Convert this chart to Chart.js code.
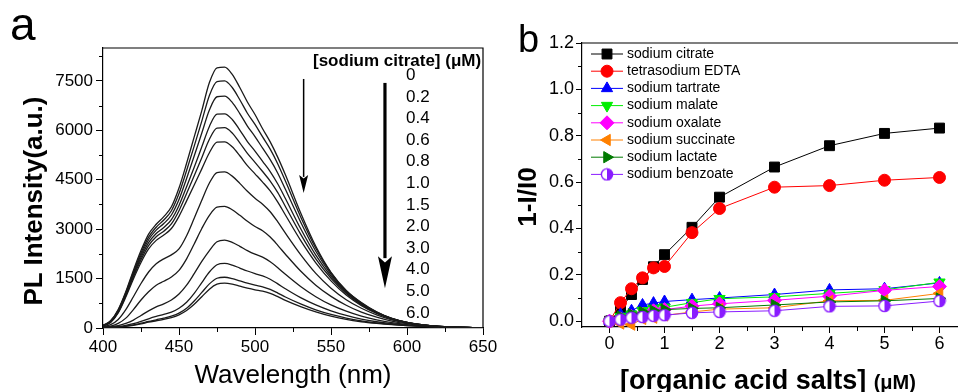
<!DOCTYPE html>
<html>
<head>
<meta charset="utf-8">
<script src="https://cdn.jsdelivr.net/npm/chart.js@4.4.1/dist/chart.umd.min.js"></script>
<style>
html, body { margin: 0; padding: 0; background: #fff; }
body { width: 958px; height: 392px; overflow: hidden; position: relative;
       font-family: "Liberation Sans", Arial, sans-serif; color: #000; }
canvas { position: absolute; top: 0; }
#chA { left: 0; }
#chB { left: 480px; }
.lbl { position: absolute; white-space: nowrap; line-height: 1; }
.rot { transform: translate(-50%, -50%) rotate(-90deg); }
</style>
</head>
<body>
<canvas id="chA" width="520" height="392"></canvas>
<canvas id="chB" width="510" height="392"></canvas>

<div class="lbl" style="left:10px;top:1px;font-size:46px">a</div>
<div class="lbl" style="left:518px;top:20px;font-size:38px">b</div>
<div class="lbl rot" style="left:33px;top:201px;font-size:26px;font-weight:bold">PL Intensity(a.u.)</div>
<div class="lbl rot" style="left:527px;top:197px;font-size:26px;font-weight:bold">1-I/I0</div>
<div class="lbl" style="left:768px;top:380px;transform:translate(-50%,-50%);font-size:27px;font-weight:bold">[organic acid salts] <span style="font-size:20px">(μM)</span></div>
<div class="lbl" style="left:313px;top:52px;font-size:17px;font-weight:bold">[sodium citrate] (μM)</div>
<div id="concList" class="lbl" style="left:406px;top:64px;font-size:17px;line-height:21.6px"></div>

<script>
/* panel a: PL spectra vs sodium citrate, panel b: quenching by organic acid salts */

// ---- panel a data ----
var wavelength = [400,405,410,415,420,425,430,435,440,445,450,455,460,465,470,475,480,485,490,495,500,505,510,515,520,530,540,550,560,570,580,590,600,615,630,650];
var citrateConc = ['0','0.2','0.4','0.6','0.8','1.0','1.5','2.0','3.0','4.0','5.0','6.0'];

var pl00 = [80,220,560,1100,1750,2350,2850,3150,3380,3680,4250,5000,5800,6600,7450,7900,7920,7700,7300,6860,6480,6050,5650,5180,4650,3500,2480,1690,1140,770,490,290,170,72,30,8];
var pl02 = [75,210,540,1070,1700,2280,2760,3060,3280,3560,4080,4780,5520,6280,7060,7480,7500,7300,6930,6520,6180,5800,5430,4980,4460,3380,2420,1670,1130,760,485,290,170,72,30,8];
var pl04 = [70,200,520,1040,1650,2210,2680,2970,3170,3430,3900,4540,5220,5920,6620,7020,7040,6850,6510,6130,5810,5460,5110,4700,4210,3220,2330,1630,1110,745,475,288,170,72,30,8];
var pl06 = [65,190,500,1010,1600,2140,2590,2870,3050,3290,3720,4290,4880,5500,6120,6490,6500,6330,6010,5660,5370,5060,4750,4370,3930,3020,2210,1570,1080,730,465,285,168,70,30,8];
var pl08 = [60,180,480,980,1550,2070,2500,2770,2940,3160,3560,4080,4620,5170,5730,6070,6080,5920,5620,5300,5030,4750,4460,4110,3690,2850,2100,1510,1050,710,455,280,165,70,30,8];
var pl10 = [55,170,460,940,1490,1990,2400,2660,2820,3020,3390,3860,4340,4830,5320,5640,5650,5500,5230,4930,4680,4430,4160,3820,3430,2660,1980,1430,1000,680,440,275,165,70,30,8];
var pl15 = [40,100,260,560,950,1350,1700,1950,2100,2220,2400,2800,3330,3880,4400,4720,4740,4610,4390,4150,3940,3760,3530,3220,2880,2230,1660,1210,860,600,400,250,150,65,28,8];
var pl20 = [30,60,140,300,560,850,1100,1300,1420,1550,1750,2100,2550,3020,3420,3670,3690,3590,3420,3240,3080,2950,2760,2510,2240,1730,1300,960,690,480,330,210,130,60,25,8];
var pl30 = [20,35,70,140,240,380,520,640,730,850,1030,1300,1650,2020,2350,2620,2670,2600,2480,2350,2240,2150,2010,1830,1630,1260,950,700,510,360,250,165,105,50,22,8];
var pl40 = [15,25,45,80,130,200,280,350,410,480,600,780,1050,1380,1700,1920,1960,1910,1820,1730,1650,1580,1480,1340,1190,920,700,520,380,270,190,130,85,45,20,8];
var pl50 = [10,20,35,60,95,145,200,250,300,360,450,600,820,1080,1340,1510,1540,1500,1430,1360,1300,1250,1170,1060,940,730,550,410,300,215,155,110,75,40,20,8];
var pl60 = [10,18,30,50,80,125,175,220,265,315,400,530,720,950,1180,1330,1360,1330,1270,1210,1160,1120,1050,950,840,650,490,360,260,190,140,100,70,40,20,8];

var yTicksA = [0,1500,3000,4500,6000,7500];
var yMinorA = [750,2250,3750,5250,6750,8250];
var xMinorA = [425,475,525,575,625];

// ---- panel b data ----
var saltConc = [0,0.2,0.4,0.6,0.8,1,1.5,2,3,4,5,6];
var citrate   = [0,0.05,0.115,0.18,0.235,0.287,0.405,0.535,0.665,0.757,0.81,0.833];
var edta      = [0,0.08,0.14,0.187,0.23,0.236,0.382,0.486,0.578,0.585,0.608,0.62];
var tartrate  = [0,0.03,0.045,0.07,0.078,0.085,0.093,0.1,0.115,0.135,0.14,0.165];
var malate    = [0,0.02,0.03,0.045,0.055,0.06,0.08,0.097,0.105,0.12,0.135,0.168];
var oxalate   = [0,0.01,0.02,0.03,0.045,0.05,0.065,0.075,0.09,0.108,0.133,0.15];
var succinate = [0,-0.01,-0.015,0.01,0.015,0.025,0.04,0.052,0.058,0.088,0.09,0.12];
var lactate   = [0,0.02,0.03,0.04,0.045,0.05,0.055,0.058,0.07,0.083,0.088,0.098];
var benzoate  = [0,0.007,0.015,0.018,0.023,0.026,0.036,0.04,0.045,0.064,0.066,0.087];

var xTicksB = [0,1,2,3,4,5,6];
var yTicksB = [0,0.2,0.4,0.6,0.8,1.0,1.2];
var xMinorB = [0.5,1.5,2.5,3.5,4.5,5.5];
var yMinorB = [0.1,0.3,0.5,0.7,0.9,1.1];

var FONT = '"Liberation Sans", Arial, sans-serif';
Chart.defaults.font.family = FONT;
Chart.defaults.color = '#000';

document.getElementById('concList').innerHTML = citrateConc.map(function (c) { return '<div>' + c + '</div>'; }).join('');

// minor ticks + top/right frame
var framePlugin = {
  id: 'frame',
  afterDraw: function (chart, args, opts) {
    var ctx = chart.ctx, a = chart.chartArea;
    var sx = chart.scales.x, sy = chart.scales.y;
    ctx.save();
    ctx.strokeStyle = '#000';
    ctx.lineWidth = 1.2;
    ctx.beginPath();
    ctx.moveTo(a.left, a.top); ctx.lineTo(a.right, a.top); ctx.lineTo(a.right, a.bottom);
    ctx.stroke();
    ctx.lineWidth = 1;
    ctx.beginPath();
    (opts.xMinor || []).forEach(function (v) {
      var px = Math.round(sx.getPixelForValue(v)) + 0.5;
      ctx.moveTo(px, a.bottom); ctx.lineTo(px, a.bottom + opts.len);
    });
    (opts.yMinor || []).forEach(function (v) {
      var py = Math.round(sy.getPixelForValue(v)) + 0.5;
      ctx.moveTo(a.left, py); ctx.lineTo(a.left - opts.len, py);
    });
    ctx.stroke();
    ctx.restore();
  }
};

// arrows in panel a, placed in data units
var arrowPlugin = {
  id: 'arrows',
  afterDatasetsDraw: function (chart, args, opts) {
    if (!opts.list) return;
    var ctx = chart.ctx, sx = chart.scales.x, sy = chart.scales.y;
    ctx.save();
    ctx.strokeStyle = '#000'; ctx.fillStyle = '#000';
    opts.list.forEach(function (ar) {
      var x = sx.getPixelForValue(ar.x);
      var y1 = sy.getPixelForValue(ar.from), y2 = sy.getPixelForValue(ar.to);
      ctx.lineWidth = ar.lw;
      ctx.beginPath(); ctx.moveTo(x, y1); ctx.lineTo(x, y2 - ar.hl + 2); ctx.stroke();
      ctx.beginPath();
      ctx.moveTo(x, y2);
      ctx.lineTo(x - ar.hw / 2, y2 - ar.hl);
      ctx.lineTo(x, y2 - ar.hl * 0.8);
      ctx.lineTo(x + ar.hw / 2, y2 - ar.hl);
      ctx.closePath(); ctx.fill();
    });
    ctx.restore();
  }
};

// legend drawn inside plot area, line through marker
var innerLegend = {
  id: 'innerLegend',
  afterDraw: function (chart, args, opts) {
    if (!opts.show) return;
    var ctx = chart.ctx, a = chart.chartArea;
    var x0 = a.left + 9;
    ctx.save();
    ctx.font = '14px ' + FONT;
    ctx.textBaseline = 'middle';
    chart.data.datasets.forEach(function (ds, i) {
      var y = a.top + 11 + i * 17.2;
      ctx.strokeStyle = ds.borderColor; ctx.lineWidth = 1;
      ctx.beginPath(); ctx.moveTo(x0, y); ctx.lineTo(x0 + 32, y); ctx.stroke();
      ctx.fillStyle = ds.pointBackgroundColor; ctx.strokeStyle = ds.pointBorderColor;
      ctx.lineWidth = ds.pointBorderWidth;
      Chart.helpers.drawPoint(ctx, {
        pointStyle: ds.pointStyle, rotation: ds.pointRotation || 0,
        radius: ds.pointRadius, borderWidth: ds.pointBorderWidth
      }, x0 + 16, y);
      ctx.fillStyle = '#000';
      ctx.fillText(ds.label, x0 + 36, y);
    });
    ctx.restore();
  }
};

function fixTicks(list) {
  return function (s) { s.ticks = list.map(function (v) { return { value: v }; }); };
}

// ---------- panel a ----------
var specs = [pl00, pl02, pl04, pl06, pl08, pl10, pl15, pl20, pl30, pl40, pl50, pl60];
new Chart(document.getElementById('chA'), {
  type: 'line',
  data: {
    datasets: specs.map(function (arr, i) {
      return {
        label: citrateConc[i] + ' μM',
        data: wavelength.map(function (w, j) { return { x: w, y: arr[j] }; }),
        borderColor: '#1a1a1a', borderWidth: 1.3,
        pointRadius: 0, cubicInterpolationMode: 'monotone', fill: false
      };
    })
  },
  options: {
    responsive: false, animation: false,
    layout: { padding: { top: 48, right: 37, bottom: 0, left: 0 } },
    plugins: {
      legend: { display: false }, tooltip: { enabled: false },
      frame: { xMinor: xMinorA, yMinor: yMinorA, len: 4 },
      arrows: { list: [
        { x: 532, from: 7560, to: 4100, lw: 1.5, hw: 9, hl: 18 },
        { x: 585.5, from: 7440, to: 1210, lw: 3.2, hw: 14, hl: 32 }
      ] },
      innerLegend: { show: false }
    },
    scales: {
      x: {
        type: 'linear', min: 400, max: 650,
        ticks: { stepSize: 50, font: { size: 17 }, padding: 2, color: '#000' },
        grid: { drawOnChartArea: false, drawTicks: true, tickLength: 7, color: '#000' },
        border: { display: true, color: '#000', width: 1.2 },
        title: { display: true, text: 'Wavelength (nm)', font: { size: 26 }, padding: { top: 0, bottom: 1 }, color: '#000' },
        afterFit: function (s) { s.height = 64; }
      },
      y: {
        min: 0, max: 8500,
        afterBuildTicks: fixTicks(yTicksA),
        ticks: { font: { size: 17 }, padding: 3, color: '#000', callback: function (v) { return String(v); } },
        grid: { drawOnChartArea: false, drawTicks: true, tickLength: 7, color: '#000' },
        border: { display: true, color: '#000', width: 1.2 },
        afterFit: function (s) { s.width = 103; }
      }
    }
  },
  plugins: [framePlugin, arrowPlugin, innerLegend]
});

// ---------- panel b ----------
var PURPLE = '#8a1cff';
var halfDot = document.createElement('canvas');
halfDot.width = 14; halfDot.height = 14;
(function () {
  var g = halfDot.getContext('2d');
  g.fillStyle = '#fff'; g.beginPath(); g.arc(7, 7, 5.6, 0, 2 * Math.PI); g.fill();
  g.fillStyle = PURPLE; g.beginPath(); g.arc(7, 7, 5.6, -Math.PI / 2, Math.PI / 2); g.closePath(); g.fill();
  g.strokeStyle = PURPLE; g.lineWidth = 1.4; g.beginPath(); g.arc(7, 7, 5.6, 0, 2 * Math.PI); g.stroke();
})();

var series = [
  { label: 'sodium citrate',      data: citrate,   color: '#000000', style: 'rect',     r: 7,   rot: 0 },
  { label: 'tetrasodium EDTA',    data: edta,      color: '#ff0000', style: 'circle',   r: 6,   rot: 0 },
  { label: 'sodium tartrate',     data: tartrate,  color: '#0000ff', style: 'triangle', r: 6.5, rot: 0 },
  { label: 'sodium malate',       data: malate,    color: '#00ee00', style: 'triangle', r: 6.5, rot: 180 },
  { label: 'sodium oxalate',      data: oxalate,   color: '#ff00ff', style: 'rectRot',  r: 7,   rot: 0 },
  { label: 'sodium succinate',    data: succinate, color: '#ff8000', style: 'triangle', r: 6.5, rot: 270 },
  { label: 'sodium lactate',      data: lactate,   color: '#007a00', style: 'triangle', r: 6.5, rot: 90 },
  { label: 'sodium benzoate',     data: benzoate,  color: PURPLE,    style: halfDot,    r: 6,   rot: 0 }
];

new Chart(document.getElementById('chB'), {
  type: 'line',
  data: {
    datasets: series.map(function (s, i) {
      return {
        label: s.label,
        data: saltConc.map(function (c, j) { return { x: c, y: s.data[j] }; }),
        borderColor: s.color, borderWidth: 1,
        pointStyle: s.style, pointRotation: s.rot, pointRadius: s.r,
        pointBackgroundColor: s.color, pointBorderColor: s.color, pointBorderWidth: 1,
        tension: 0, fill: false, clip: false,
        order: series.length - 1 - i
      };
    })
  },
  options: {
    responsive: false, animation: false,
    layout: { padding: { top: 43, right: 23, bottom: 0, left: 0 } },
    plugins: {
      legend: { display: false }, tooltip: { enabled: false },
      frame: { xMinor: xMinorB, yMinor: yMinorB, len: 4 },
      innerLegend: { show: true }
    },
    scales: {
      x: {
        type: 'linear', min: -0.5, max: 6.5,
        afterBuildTicks: fixTicks(xTicksB),
        ticks: { font: { size: 18 }, padding: 0, color: '#000', callback: function (v) { return String(v); } },
        grid: { drawOnChartArea: false, drawTicks: true, tickLength: 6, color: '#000' },
        border: { display: true, color: '#000', width: 1.2 },
        afterFit: function (s) { s.height = 65; }
      },
      y: {
        min: -0.025, max: 1.2,
        afterBuildTicks: fixTicks(yTicksB),
        ticks: { font: { size: 18 }, padding: 2, color: '#000', callback: function (v) { return v.toFixed(1); } },
        grid: { drawOnChartArea: false, drawTicks: true, tickLength: 6, color: '#000' },
        border: { display: true, color: '#000', width: 1.2 },
        afterFit: function (s) { s.width = 102; }
      }
    }
  },
  plugins: [framePlugin, innerLegend]
});
</script>
</body>
</html>
